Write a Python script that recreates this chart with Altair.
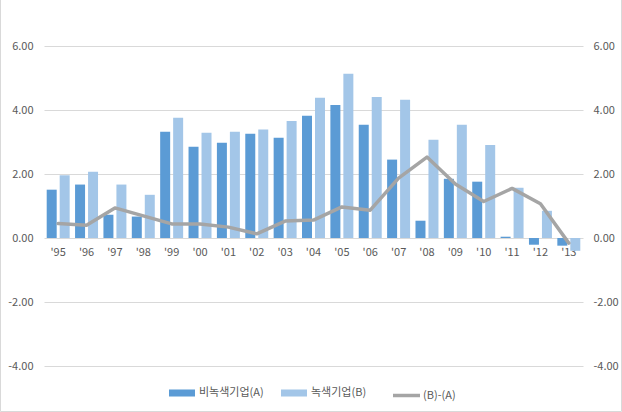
import altair as alt
import pandas as pd

years = ["'95", "'96", "'97", "'98", "'99", "'00", "'01", "'02", "'03", "'04",
         "'05", "'06", "'07", "'08", "'09", "'10", "'11", "'12", "'13"]
non_green = [1.51, 1.67, 0.73, 0.67, 3.32, 2.85, 2.98, 3.26, 3.13, 3.82,
             4.16, 3.54, 2.45, 0.54, 1.85, 1.76, 0.04, -0.21, -0.24]
green = [1.96, 2.07, 1.67, 1.35, 3.76, 3.29, 3.32, 3.39, 3.66, 4.38,
         5.13, 4.41, 4.32, 3.07, 3.54, 2.91, 1.57, 0.85, -0.40]
diff = [0.45, 0.40, 0.94, 0.69, 0.44, 0.44, 0.34, 0.13, 0.53, 0.56,
        0.97, 0.87, 1.87, 2.53, 1.69, 1.14, 1.55, 1.07, -0.16]

s_a = "비녹색기업(A)"
s_b = "녹색기업(B)"
s_d = "(B)-(A)"

bars_df = pd.DataFrame({
    "year": years * 2,
    "series": [s_a] * len(years) + [s_b] * len(years),
    "value": non_green + green,
})
line_df = pd.DataFrame({"year": years, "series": [s_d] * len(years), "value": diff})

FONT = "Noto Sans CJK KR"
TXT = "#595959"
GRID = "#d9d9d9"
ydom = [-4, 6]
yvals = [-4, -2, 0, 2, 4, 6]
lab = "datum.value < 0 ? '-' + format(-datum.value, '.2f') : format(datum.value, '.2f')"

xenc = alt.X("year:N", sort=years, title=None,
             scale=alt.Scale(paddingInner=0.19, paddingOuter=0.095),
             axis=alt.Axis(orient="bottom", offset=-128, domain=False, ticks=False,
                           labelAngle=0, labelPadding=8, labelFont=FONT,
                           labelFontSize=11, labelColor=TXT, grid=False))

bars = alt.Chart(bars_df).mark_bar().encode(
    x=xenc,
    xOffset=alt.XOffset("series:N", sort=[s_a, s_b],
                        scale=alt.Scale(paddingInner=0.23)),
    y=alt.Y("value:Q", title=None,
            scale=alt.Scale(domain=ydom, nice=False, zero=False),
            axis=alt.Axis(orient="left", values=yvals, labelExpr=lab,
                          domain=False, ticks=False, labelPadding=11,
                          grid=True, gridColor=GRID, gridWidth=1,
                          labelFont=FONT, labelFontSize=11, labelColor=TXT)),
    fill=alt.Fill("series:N",
                  scale=alt.Scale(domain=[s_a, s_b], range=["#5b9bd5", "#a3c6e8"]),
                  legend=alt.Legend(orient="none", legendX=125, legendY=334,
                                    direction="horizontal", title=None,
                                    symbolType="M-1,-0.27H1V0.27H-1Z",
                                    symbolSize=676, symbolStrokeWidth=0,
                                    labelFont=FONT, labelFontSize=11,
                                    labelColor=TXT, labelOffset=4,
                                    columnPadding=17, labelLimit=200)),
)

line = alt.Chart(line_df).mark_line(strokeWidth=3.5, strokeCap="round",
                                    strokeJoin="round").encode(
    x=alt.X("year:N", sort=years),
    y=alt.Y("value:Q", title=None,
            scale=alt.Scale(domain=ydom, nice=False, zero=False),
            axis=alt.Axis(orient="right", values=yvals, labelExpr=lab,
                          domain=False, ticks=False, labelPadding=10,
                          grid=False, labelAlign="left",
                          labelFont=FONT, labelFontSize=11, labelColor=TXT)),
    stroke=alt.Stroke("series:N",
                      scale=alt.Scale(domain=[s_d], range=["#a5a5a5"]),
                      legend=alt.Legend(orient="none", legendX=347, legendY=334,
                                        title=None, symbolType="stroke",
                                        symbolSize=729, symbolStrokeWidth=3.5,
                                        labelFont=FONT, labelFontSize=11,
                                        labelColor=TXT, labelOffset=1,
                                        labelLimit=200)),
)

border = alt.Chart(pd.DataFrame({"a": [0]})).mark_rect(
    fill="transparent", stroke="#d9d9d9", strokeWidth=1).encode(
    x=alt.value(-43.5), x2=alt.value(577.5),
    y=alt.value(-46.5), y2=alt.value(365.5))

chart = alt.layer(bars, line, border).resolve_scale(
    y="independent", fill="independent", stroke="independent"
).properties(
    width=539, height=320,
    autosize=alt.AutoSizeParams(type="none"),
    padding={"left": 44, "top": 46, "right": 39, "bottom": 46},
    background="white",
).configure_view(stroke=None)

chart.save("out.html", embed_options={"renderer": "svg", "actions": False})
